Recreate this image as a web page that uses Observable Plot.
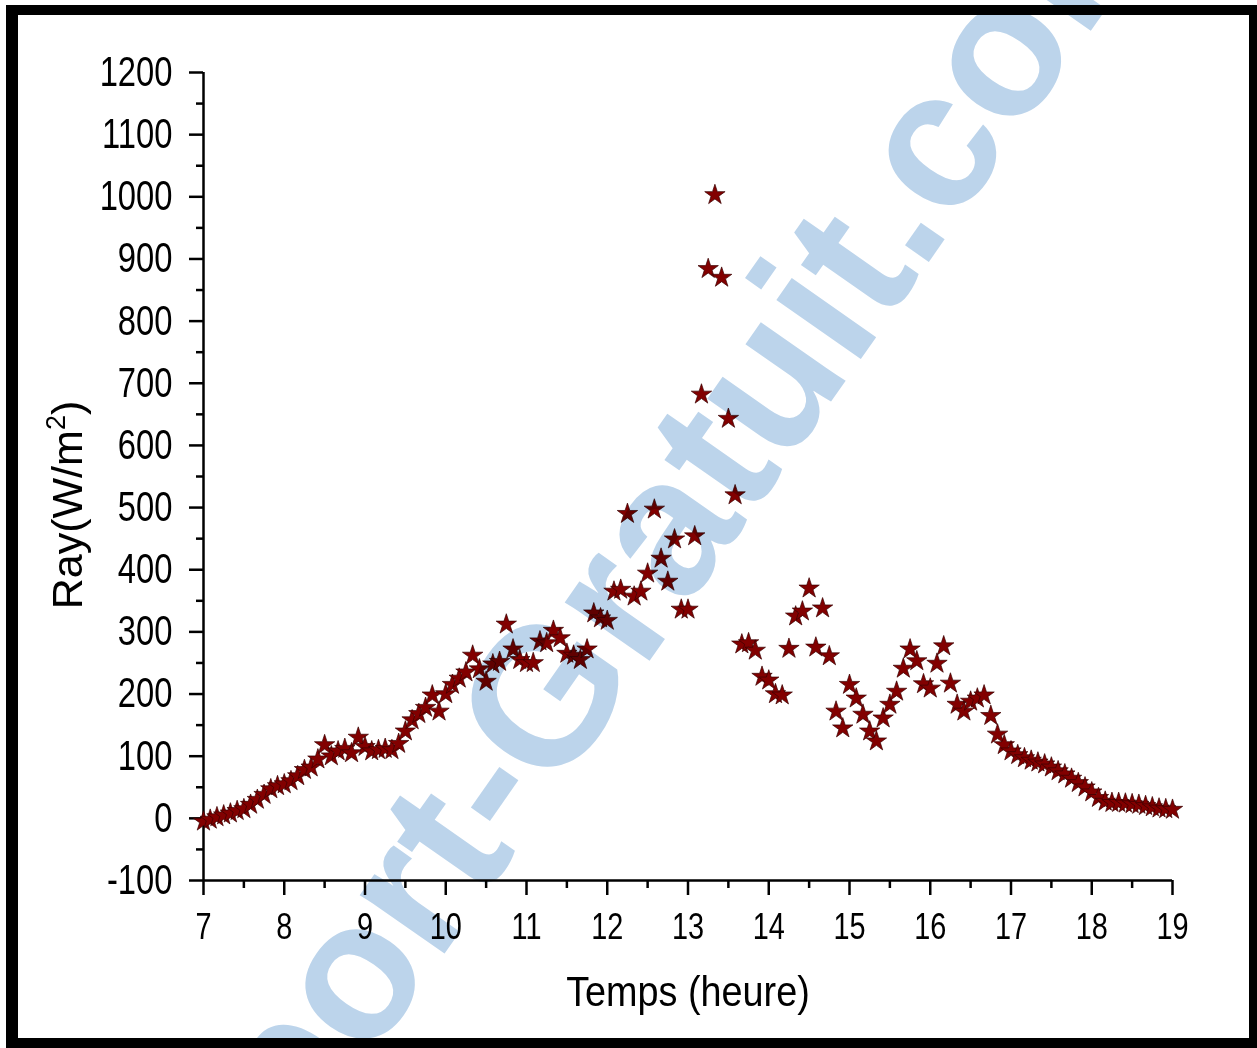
<!DOCTYPE html>
<html><head><meta charset="utf-8">
<script src="https://cdn.jsdelivr.net/npm/d3@7"></script>
<script src="https://cdn.jsdelivr.net/npm/@observablehq/plot@0.6"></script>
<style>
body{margin:0;background:#fff;}
#wrap{position:relative;width:1257px;height:1048px;overflow:hidden;background:#fff;}
#chart{position:absolute;left:0;top:0;}
#wm{position:absolute;left:0;top:0;mix-blend-mode:multiply;pointer-events:none;}
#frame{position:absolute;left:6px;top:5px;width:1231px;height:1023px;border-style:solid;border-color:#000;border-width:10px 8px 10px 12px;pointer-events:none;}
</style>
</head><body>
<div id="wrap"><div id="chart"></div><svg id="wm" width="1257" height="1048"></svg><div id="frame"></div></div>
<script>
// Time of measurement (hh:mm), every 5 minutes
const times = [
"7:00","7:05","7:10","7:15","7:20","7:25","7:30","7:35","7:40","7:45","7:50","7:55",
"8:00","8:05","8:10","8:15","8:20","8:25","8:30","8:35","8:40","8:45","8:50","8:55",
"9:00","9:05","9:10","9:15","9:20","9:25","9:30","9:35","9:40","9:45","9:50","9:55",
"10:00","10:05","10:10","10:15","10:20","10:25","10:30","10:35","10:40","10:45","10:50","10:55",
"11:00","11:05","11:10","11:15","11:20","11:25","11:30","11:35","11:40","11:45","11:50","11:55",
"12:00","12:05","12:10","12:15","12:20","12:25","12:30","12:35","12:40","12:45","12:50","12:55",
"13:00","13:05","13:10","13:15","13:20","13:25","13:30","13:35","13:40","13:45","13:50","13:55",
"14:00","14:05","14:10","14:15","14:20","14:25","14:30","14:35","14:40","14:45","14:50","14:55",
"15:00","15:05","15:10","15:15","15:20","15:25","15:30","15:35","15:40","15:45","15:50","15:55",
"16:00","16:05","16:10","16:15","16:20","16:25","16:30","16:35","16:40","16:45","16:50","16:55",
"17:00","17:05","17:10","17:15","17:20","17:25","17:30","17:35","17:40","17:45","17:50","17:55",
"18:00","18:05","18:10","18:15","18:20","18:25","18:30","18:35","18:40","18:45","18:50","18:55",
"19:00"];
// Solar radiation (W/m²)
const radiation = [
-5,-2,2,5,8,12,15,22,30,38,47,52,
55,60,68,78,82,95,118,100,108,112,105,130,
115,108,110,112,110,120,140,158,168,178,198,172,
200,215,225,235,262,240,220,248,252,312,272,255,
250,250,285,282,302,290,265,262,255,272,330,322,
318,365,368,490,357,365,394,497,418,381,449,336,
336,454,682,884,1003,870,643,520,280,282,270,228,
222,200,198,273,325,333,370,275,338,261,172,145,
215,193,167,140,124,161,183,204,241,272,253,216,
209,249,277,217,183,172,188,193,198,165,135,118,
108,102,97,93,90,87,82,76,71,64,57,50,
42,33,27,25,25,24,23,22,20,18,16,15,
14];
const xTicks = [7,8,9,10,11,12,13,14,15,16,17,18,19];
const xMinor = [7.5,8.5,9.5,10.5,11.5,12.5,13.5,14.5,15.5,16.5,17.5,18.5];
const yTicks = [-100,0,100,200,300,400,500,600,700,800,900,1000,1100,1200];
const yMinor = [-50,50,150,250,350,450,550,650,750,850,950,1050,1150];
const xTitle = "Temps (heure)";
const yTitle = ["Ray(W/m", "2", ")"];
const watermark = "port-Gratuit.com";

const toHours = s => { const [h, m] = s.split(":").map(Number); return h + m / 60; };
const data = times.map((t, i) => ({t: toHours(t), v: radiation[i]}));

const FONT = "'Liberation Sans', Arial, sans-serif";
const plot = Plot.plot({
  width: 1257, height: 1048,
  marginLeft: 203, marginRight: 85, marginTop: 72, marginBottom: 168,
  style: {fontFamily: FONT, background: "transparent", color: "#000"},
  x: {domain: [7, 19]},
  y: {domain: [-100, 1200]},
  marks: [
    Plot.axisX({ticks: xTicks, tickSize: 15, tickPadding: 17, fontSize: 37, strokeWidth: 2.5, label: null, tickFormat: d => String(d), ariaLabel: "xmajor"}),
    Plot.axisX({ticks: xMinor, tickSize: 8, strokeWidth: 2.5, label: null, tickFormat: () => ""}),
    Plot.axisY({ticks: yTicks, tickSize: 14, tickPadding: 17, fontSize: 42, strokeWidth: 2.5, label: null, tickFormat: d => String(d), ariaLabel: "ymajor"}),
    Plot.axisY({ticks: yMinor, tickSize: 7, strokeWidth: 2.5, label: null, tickFormat: () => ""}),
    Plot.ruleY([-100], {strokeWidth: 2.5}),
    Plot.ruleX([7], {strokeWidth: 2.5}),
    Plot.dot(data, {x: "t", y: "v", symbol: "star", r: 6.4, fill: "#820000", stroke: "#3a0000", strokeWidth: 0.7})
  ]
});
document.getElementById("chart").appendChild(plot);
const svg = d3.select(plot);
// condensed look of tick labels
svg.selectAll("g[aria-label='xmajor tick label'] text").each(function() {
  this.setAttribute("transform", (this.getAttribute("transform") || "") + " scale(0.78,1)");
});
svg.selectAll("g[aria-label='ymajor tick label'] text").each(function() {
  this.setAttribute("transform", (this.getAttribute("transform") || "") + " scale(0.78,1)");
});
// axis titles
svg.append("text").attr("x", 0).attr("y", 0).attr("text-anchor", "middle")
  .attr("font-family", FONT).attr("font-size", 42).attr("transform", "translate(688,1006) scale(0.9,1)")
  .text(xTitle);
const yl = svg.append("text").attr("text-anchor", "middle").attr("font-family", FONT).attr("font-size", 43)
  .attr("transform", "translate(82,505) rotate(-90)");
yl.append("tspan").text(yTitle[0]);
yl.append("tspan").attr("font-size", 27).attr("dy", -17).text(yTitle[1]);
yl.append("tspan").attr("dy", 17).text(yTitle[2]);
// watermark
d3.select("#wm").append("text")
  .attr("transform", "translate(300,1160) rotate(-55)")
  .attr("font-family", FONT).attr("font-weight", "bold").attr("font-size", 195)
  .attr("fill", "#bcd4eb").text(watermark);
</script>
</body></html>
